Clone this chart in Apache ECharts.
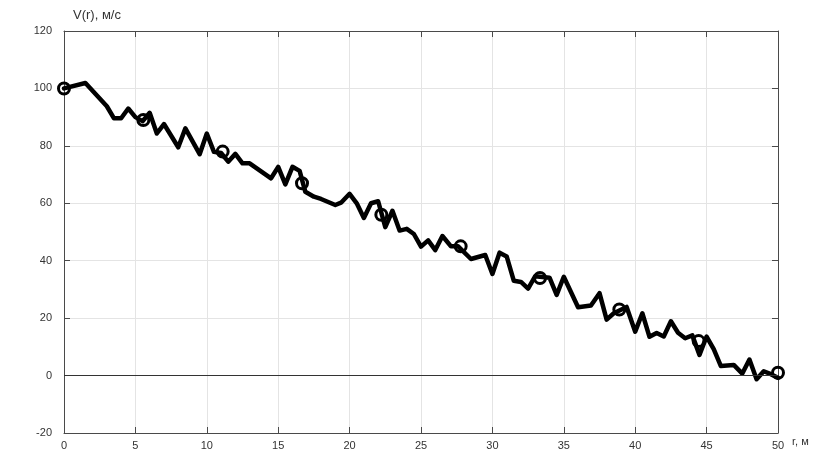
<!DOCTYPE html>
<html>
<head>
<meta charset="utf-8">
<script src="https://cdn.jsdelivr.net/npm/echarts@6/dist/echarts.min.js"></script>
<style>
html,body{margin:0;padding:0;background:#fff;}
#chart{width:813px;height:452px;}
</style>
</head>
<body>
<div id="chart"></div>
<script>
// distance r, m
var rValues = [0, 1.5, 3.0, 3.5, 4.0, 4.5, 5.0, 5.5, 6.0, 6.5, 7.0, 8.0, 8.5, 9.5, 10.0, 10.5, 11.0, 11.5, 12.0, 12.5, 13.0, 14.5, 15.0, 15.5, 16.0, 16.5, 16.9, 17.5, 18.0, 19.0, 19.4, 20.0, 20.5, 21.0, 21.5, 22.0, 22.5, 23.0, 23.5, 24.0, 24.5, 25.0, 25.5, 26.0, 26.5, 27.1, 27.6, 28.5, 29.5, 30.0, 30.5, 31.0, 31.5, 32.0, 32.5, 33.0, 34.0, 34.5, 35.0, 36.0, 36.9, 37.5, 38.0, 38.5, 39.4, 40.0, 40.5, 41.0, 41.5, 42.0, 42.5, 43.0, 43.5, 44.0, 44.5, 45.0, 45.5, 46.0, 46.9, 47.5, 48.0, 48.5, 49.0, 49.5, 50.0];
// measured velocity V(r), m/s
var vValues = [100, 101.9, 93.8, 89.6, 89.6, 93.0, 90.0, 88.6, 91.5, 84.3, 87.6, 79.5, 86.1, 77.1, 84.3, 77.9, 77.5, 74.5, 77.2, 73.9, 73.9, 68.7, 72.7, 66.6, 72.7, 71.3, 64.0, 62.3, 61.5, 59.4, 60.2, 63.3, 60.0, 54.9, 60.0, 60.7, 51.7, 57.4, 50.5, 51.1, 49.3, 44.9, 47.1, 43.7, 48.6, 45.0, 45.0, 40.6, 42.0, 35.4, 42.8, 41.5, 33.0, 32.6, 30.3, 34.6, 34.1, 28.1, 34.4, 23.8, 24.4, 28.7, 19.5, 21.7, 23.9, 15.3, 21.7, 13.5, 14.8, 13.6, 18.9, 14.9, 13.0, 14.0, 7.2, 13.6, 9.2, 3.3, 3.7, 0.7, 5.6, -1.3, 1.5, 0.5, -0.8];
// reference points (circles)
var markerR = [0, 5.556, 11.111, 16.667, 22.222, 27.778, 33.333, 38.889, 44.444, 50];
var markerV = [100, 89, 78, 67, 56, 45, 34, 23, 12, 1];
var xTicks = [0, 5, 10, 15, 20, 25, 30, 35, 40, 45, 50];
var yTicks = [-20, 0, 20, 40, 60, 80, 100, 120];
var xName = 'r, м';
var yName = 'V(r), м/с';

var lineData = rValues.map(function (r, i) { return [r, vValues[i]]; });
var markerData = markerR.map(function (r, i) { return [r, markerV[i]]; });

var FONT = 'Liberation Sans, Arial, sans-serif';
var labelStyle = { color: '#333', fontSize: 11, fontFamily: FONT };
var axisLineStyle = { color: '#4a4a4a', width: 1 };
var gridLine = { show: true, lineStyle: { color: '#e4e4e4', width: 1 } };

var chart = echarts.init(document.getElementById('chart'));
chart.setOption({
  animation: false,
  backgroundColor: '#fff',
  grid: { left: 64, right: 35, top: 31, bottom: 19, containLabel: false },
  xAxis: [{
    type: 'value', min: xTicks[0], max: xTicks[xTicks.length - 1], interval: 5,
    position: 'bottom',
    name: xName, nameLocation: 'end', nameGap: 14,
    nameTextStyle: { color: '#333', fontSize: 11, fontFamily: FONT, verticalAlign: 'top', padding: [3, 0, 0, 0] },
    axisLine: { show: true, onZero: false, lineStyle: axisLineStyle },
    axisTick: { show: true, inside: true, length: 6, lineStyle: axisLineStyle },
    axisLabel: Object.assign({ margin: 7 }, labelStyle),
    splitLine: gridLine
  }, {
    type: 'value', min: xTicks[0], max: xTicks[xTicks.length - 1], interval: 5,
    position: 'top',
    axisLine: { show: true, onZero: false, lineStyle: axisLineStyle },
    axisTick: { show: true, inside: true, length: 6, lineStyle: axisLineStyle },
    axisLabel: { show: false },
    splitLine: { show: false }
  }],
  yAxis: [{
    type: 'value', min: yTicks[0], max: yTicks[yTicks.length - 1], interval: 20,
    position: 'left',
    name: yName, nameLocation: 'end', nameGap: 16,
    nameTextStyle: { color: '#333', fontSize: 13, fontFamily: FONT, align: 'left', verticalAlign: 'middle', padding: [0, 0, 0, 9] },
    axisLine: { show: true, onZero: false, lineStyle: axisLineStyle },
    axisTick: { show: true, inside: true, length: 6, lineStyle: axisLineStyle },
    axisLabel: Object.assign({ margin: 12 }, labelStyle),
    splitLine: gridLine
  }, {
    type: 'value', min: yTicks[0], max: yTicks[yTicks.length - 1], interval: 20,
    position: 'right',
    axisLine: { show: true, onZero: false, lineStyle: axisLineStyle },
    axisTick: { show: true, inside: true, length: 6, lineStyle: axisLineStyle },
    axisLabel: { show: false },
    splitLine: { show: false }
  }],
  series: [{
    type: 'line',
    data: lineData,
    showSymbol: false,
    symbol: 'none',
    lineStyle: { color: '#000', width: 4.5, join: 'round', cap: 'round' },
    markLine: {
      silent: true, symbol: 'none', label: { show: false },
      lineStyle: { color: '#333', width: 1, type: 'solid' },
      data: [{ yAxis: 0 }]
    },
    z: 3
  }, {
    type: 'scatter',
    data: markerData,
    symbol: 'circle',
    symbolSize: 11,
    itemStyle: { color: 'rgba(0,0,0,0)', borderColor: '#000', borderWidth: 3, opacity: 1 },
    z: 4
  }]
});
</script>
</body>
</html>
